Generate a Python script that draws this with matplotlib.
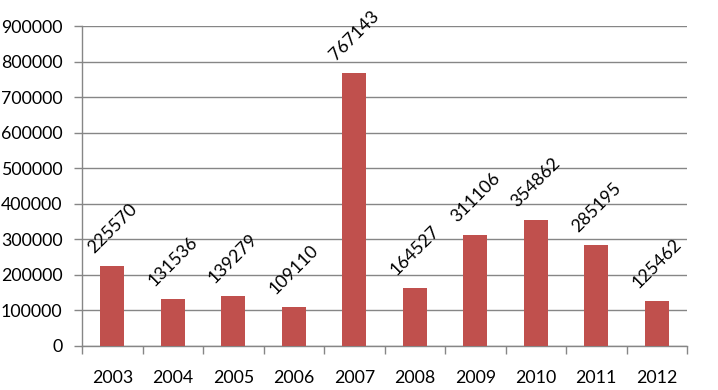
import matplotlib
matplotlib.use("Agg")
import matplotlib.pyplot as plt

years = ["2003", "2004", "2005", "2006", "2007", "2008", "2009", "2010", "2011", "2012"]
values = [225570, 131536, 139279, 109110, 767143, 164527, 311106, 354862, 285195, 125462]
yticks = [0, 100000, 200000, 300000, 400000, 500000, 600000, 700000, 800000, 900000]

plt.rcParams['font.family'] = ['Lato', 'DejaVu Sans']

fig = plt.figure(figsize=(7.18, 3.90), dpi=100)
ax = fig.add_axes([82/718, 1-346/390, (687-82)/718, 320/390])

x = list(range(len(years)))
bar_color = '#C0504D'
grid_color = '#868686'
ax.bar(x, values, width=0.4, color=bar_color, zorder=3)

for xi, v in zip(x, values):
    ax.annotate(str(v), xy=(xi, v), xytext=(0, 27), textcoords='offset points',
                ha='center', va='center', rotation=45, rotation_mode='anchor',
                fontsize=12.8, color='black', zorder=4)

ax.set_xlim(-0.5, len(years) - 0.5)
ax.set_ylim(0, 900000)
ax.set_yticks(yticks)
ax.set_yticklabels([str(t) for t in yticks], fontsize=12.8)
ax.yaxis.grid(True, color=grid_color, linewidth=1)
ax.set_axisbelow(True)

ax.set_xticks([i - 0.5 for i in range(len(years) + 1)])
ax.set_xticklabels([])
ax.set_xticks(x, minor=True)
ax.set_xticklabels(years, minor=True, fontsize=12.8)
ax.tick_params(axis='x', which='major', length=6, color=grid_color, width=1)
ax.tick_params(axis='x', which='minor', length=0, pad=17.5)
ax.tick_params(axis='y', length=6, color=grid_color, width=1, pad=8)

for s in ['top', 'right']:
    ax.spines[s].set_visible(False)
for s in ['left', 'bottom']:
    ax.spines[s].set_color(grid_color)
    ax.spines[s].set_linewidth(1)

fig.savefig('out.png', dpi=100, facecolor='white')
